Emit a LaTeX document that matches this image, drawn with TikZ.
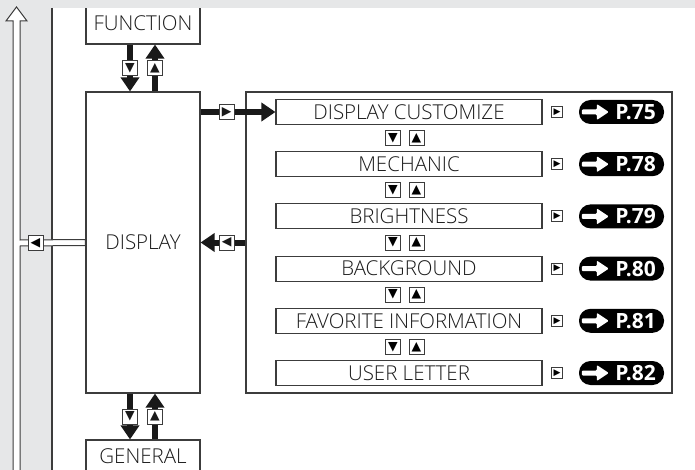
\documentclass[tikz,border=0pt]{standalone}
\usepackage{fontspec}
\setmainfont{Open Sans}[UprightFont={* Light}, BoldFont={* Bold}]
\newfontfamily\symfont{DejaVu Sans}
\usetikzlibrary{arrows.meta}
\definecolor{bandgray}{HTML}{E6E7E8}
\definecolor{linegray}{HTML}{3C3C3C}
\tikzset{
  box/.style={draw=linegray, line width=1.1pt, fill=white, inner sep=0pt,
    text=black!90, font=\fontsize{20.5}{20.5}\selectfont},
  item/.style={box, minimum width=266pt, minimum height=25pt},
  flow/.style={line width=6pt, black!90, -{Triangle[length=14pt,width=18pt]}},
  icon/.style={draw=linegray, line width=1pt, fill=white, minimum size=15pt,
    inner sep=0pt, font=\symfont\fontsize{12.5}{12.5}\selectfont},
  tinyicon/.style={icon, minimum size=11pt, font=\symfont\fontsize{9}{9}\selectfont},
  pill/.style={fill=black, rounded corners=11.5pt, minimum width=85pt,
    minimum height=24pt, inner sep=0pt, text=white,
    font=\bfseries\fontsize{21}{21}\selectfont}
}

\begin{document}
\begin{tikzpicture}[x=1pt, y=-1pt]
  \useasboundingbox (0,0) rectangle (695,470);

  % Grey margin on the left
  \fill[bandgray] (0,0) rectangle (52,470);

  % Main boxes
  \node[box, minimum width=114pt, minimum height=41pt]  (func)  at (143,23.5)  {FUNCTION};
  \node[box, minimum width=114pt, minimum height=301pt] (disp)  at (143,242.5) {DISPLAY};
  \node[box, minimum width=114pt, minimum height=32pt]  (gen)   at (143,456)   {GENERAL};
  \node[box, minimum width=426pt, minimum height=301pt] (panel) at (459,242.5) {};

  % Grey band on top and margin line
  \fill[bandgray] (0,0) rectangle (695,8);
  \draw[linegray, line width=1.1pt] (52,8) -- (52,470);

  % Hollow arrow going back up
  \filldraw[fill=white, draw=linegray, line width=1pt]
    (13,475) -- (13,21) -- (6,21) -- (16.5,7) -- (27,21) -- (20,21)
    -- (20,240) -- ([yshift=3pt]disp.west) -- ([yshift=-3pt]disp.west)
    -- (20,246) -- (20,475) -- cycle;
  \node[icon] (back) at (35.5,243) {◀};

  % Arrows FUNCTION <-> DISPLAY <-> GENERAL
  \draw[flow] ([xshift=-13pt]func.south) -- node[icon] (fdown) {▼} ([xshift=-13pt]disp.north);
  \draw[flow] ([xshift=12pt]disp.north) -- node[icon] (fup) {▲} ([xshift=12pt]func.south);
  \draw[flow] ([xshift=-13pt]disp.south) -- node[icon] (gdown) {▼} ([xshift=-13pt]gen.north);
  \draw[flow] ([xshift=12pt]gen.north) -- node[icon] (gup) {▲} ([xshift=12pt]disp.south);

  % Menu items with page references
  \foreach \txt/\pg [count=\i] in {DISPLAY CUSTOMIZE/75, MECHANIC/78, BRIGHTNESS/79,
      BACKGROUND/80, FAVORITE INFORMATION/81, USER LETTER/82} {
    \node[item] (item\i) at (409,112+52.2*\i-52.2) {\txt};
    \node[tinyicon] (sel\i) at (557,112+52.2*\i-52.2) {▶};
    \node[pill] (pg\i) at (621.5,112+52.2*\i-52.2) {\hspace{28pt}P.\pg};
    \fill[white, rounded corners=1pt] ([shift={(3,2.5)}]pg\i.west) -- ++(15,0) -- ++(0,5.5)
      -- ++(12,-8) -- ++(-12,-8) -- ++(0,5.5) -- ++(-15,0) -- cycle;
  }

  % Up and down keys between items
  \foreach \i in {1,...,5} {
    \node[icon] (dn\i) at (393,138.1+52.2*\i-52.2) {▼};
    \node[icon] (up\i) at (416.5,138.1+52.2*\i-52.2) {▲};
  }

  % Arrows DISPLAY <-> items
  \draw[flow] (disp.east |- item1.west) -- node[icon, pos=0.35] (go) {▶} (item1.west);
  \draw[flow] (panel.west) -- node[icon, pos=0.42] (ret) {◀} (disp.east);
\end{tikzpicture}
\end{document}
